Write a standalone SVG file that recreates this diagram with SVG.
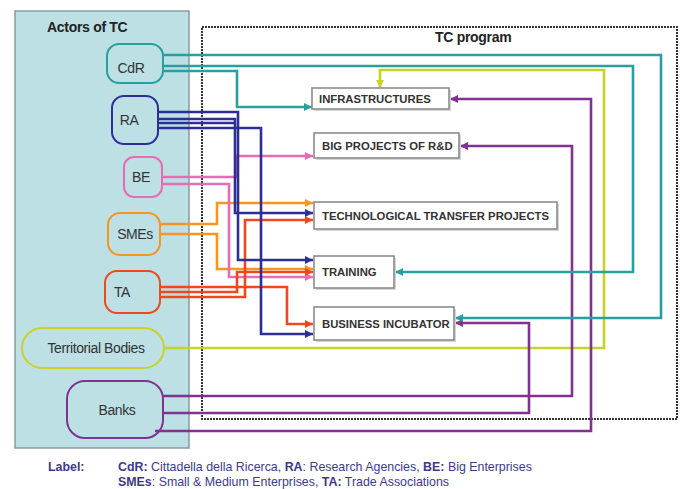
<svg xmlns="http://www.w3.org/2000/svg" width="682" height="489" viewBox="0 0 682 489">
  <style>
    .panel { fill: #bde0e5; stroke: #8a9a9c; stroke-width: 1.5; }
    .actor { fill: none; stroke-width: 2; }
    .alabel { font-family: "Liberation Sans", Arial, sans-serif; font-size: 14px; fill: #333; letter-spacing: -0.4px; }
    .title { font-family: "Liberation Sans", Arial, sans-serif; font-size: 14px; font-weight: bold; fill: #222; letter-spacing: -0.3px; }
    .box { fill: #fff; stroke: #8c8c8c; stroke-width: 1.6; }
    .shadow { fill: #d6d6d6; }
    .blabel { font-family: "Liberation Sans", Arial, sans-serif; font-size: 11.3px; font-weight: bold; fill: #333; }
    .wire { fill: none; stroke-width: 2.6; stroke-linejoin: miter; }
    .legend { font-family: "Liberation Sans", Arial, sans-serif; font-size: 12.4px; fill: #3d3a8c; }
    .legend .b { font-weight: bold; }
    .teal { stroke: #2a9fa0; }
    .navy { stroke: #2e2f96; }
    .pink { stroke: #e86bb3; }
    .orange { stroke: #f7961f; }
    .red { stroke: #f1471f; }
    .yellow { stroke: #c8d227; }
    .purple { stroke: #7f338f; }
  </style>
  <defs>
    <marker id="ah-teal" markerUnits="userSpaceOnUse" markerWidth="9" markerHeight="9" refX="8" refY="4" orient="auto"><path d="M0,0 L8,4 L0,8 z" fill="#2a9fa0"/></marker>
    <marker id="ah-navy" markerUnits="userSpaceOnUse" markerWidth="9" markerHeight="9" refX="8" refY="4" orient="auto"><path d="M0,0 L8,4 L0,8 z" fill="#2e2f96"/></marker>
    <marker id="ah-pink" markerUnits="userSpaceOnUse" markerWidth="9" markerHeight="9" refX="8" refY="4" orient="auto"><path d="M0,0 L8,4 L0,8 z" fill="#e86bb3"/></marker>
    <marker id="ah-orange" markerUnits="userSpaceOnUse" markerWidth="9" markerHeight="9" refX="8" refY="4" orient="auto"><path d="M0,0 L8,4 L0,8 z" fill="#f7961f"/></marker>
    <marker id="ah-red" markerUnits="userSpaceOnUse" markerWidth="9" markerHeight="9" refX="8" refY="4" orient="auto"><path d="M0,0 L8,4 L0,8 z" fill="#f1471f"/></marker>
    <marker id="ah-yellow" markerUnits="userSpaceOnUse" markerWidth="9" markerHeight="9" refX="8" refY="4" orient="auto"><path d="M0,0 L8,4 L0,8 z" fill="#c8d227"/></marker>
    <marker id="ah-purple" markerUnits="userSpaceOnUse" markerWidth="9" markerHeight="9" refX="8" refY="4" orient="auto"><path d="M0,0 L8,4 L0,8 z" fill="#7f338f"/></marker>
  </defs>

  <rect width="682" height="489" fill="#fff"/>

  <!-- Actors panel -->
  <g id="actors-panel">
    <rect class="panel" x="15" y="11" width="174" height="437"/>
    <text class="title" x="47" y="32">Actors of TC</text>
  </g>

  <!-- TC program frame -->
  <g id="tc-program">
    <rect x="202" y="27" width="475" height="392" fill="none" stroke="#333" stroke-width="2" stroke-dasharray="2 1"/>
    <text class="title" x="435" y="42">TC program</text>
  </g>

  <!-- Connectors -->
  <g id="connectors">
    <!-- Territorial Bodies -->
    <path class="wire yellow" d="M164,348 H604 V70 H380 V88" marker-end="url(#ah-yellow)"/>
    <!-- Banks -->
    <path class="wire purple" d="M163,396 H572 V146 H460" marker-end="url(#ah-purple)"/>
    <path class="wire purple" d="M163,413 H529 V323 H455" marker-end="url(#ah-purple)"/>
    <path class="wire purple" d="M155,431 H591 V99 H450" marker-end="url(#ah-purple)"/>
    <!-- CdR -->
    <path class="wire teal" d="M163,55 H661 V318 H455" marker-end="url(#ah-teal)"/>
    <path class="wire teal" d="M163,66 H633 V272 H395" marker-end="url(#ah-teal)"/>
    <path class="wire teal" d="M163,71 H237 V107 H312" marker-end="url(#ah-teal)"/>
    <!-- SMEs -->
    <path class="wire orange" d="M160,224 H217 V203 H313" marker-end="url(#ah-orange)"/>
    <path class="wire orange" d="M160,234 H217 V269 H313" marker-end="url(#ah-orange)"/>
    <!-- BE -->
    <path class="wire pink" d="M162,177 H237 V156 H313" marker-end="url(#ah-pink)"/>
    <path class="wire pink" d="M162,184 H229 V277 H313" marker-end="url(#ah-pink)"/>
    <!-- TA -->
    <path class="wire red" d="M160,287 H287 V324 H313" marker-end="url(#ah-red)"/>
    <path class="wire red" d="M160,292 H237 V272 H313" marker-end="url(#ah-red)"/>
    <path class="wire red" d="M160,297 H245 V220 H313" marker-end="url(#ah-red)"/>
    <!-- RA -->
    <path class="wire navy" d="M158,112 H238 V260 H313" marker-end="url(#ah-navy)"/>
    <path class="wire navy" d="M158,119 H235 V213 H313" marker-end="url(#ah-navy)"/>
    <path class="wire navy" d="M158,123 H235"/>
    <path class="wire navy" d="M158,128 H261 V334 H313" marker-end="url(#ah-navy)"/>
  </g>

  <!-- Actor nodes -->
  <g id="cdr">
    <rect class="actor teal" x="107" y="44" width="56" height="39" rx="12"/>
    <text class="alabel" x="131" y="73" text-anchor="middle">CdR</text>
  </g>
  <g id="ra">
    <rect class="actor navy" x="112" y="96" width="46" height="48" rx="12"/>
    <text class="alabel" x="129" y="125" text-anchor="middle">RA</text>
  </g>
  <g id="be">
    <rect class="actor pink" x="124" y="157" width="38" height="40" rx="10"/>
    <text class="alabel" x="141" y="182" text-anchor="middle">BE</text>
  </g>
  <g id="smes">
    <rect class="actor orange" x="108" y="213" width="52" height="42" rx="12"/>
    <text class="alabel" x="135" y="239" text-anchor="middle">SMEs</text>
  </g>
  <g id="ta">
    <rect class="actor red" x="105" y="271" width="55" height="42" rx="12"/>
    <text class="alabel" x="122" y="297" text-anchor="middle">TA</text>
  </g>
  <g id="territorial-bodies">
    <rect class="actor yellow" x="22" y="328" width="142" height="40" rx="20"/>
    <text class="alabel" x="96" y="353" text-anchor="middle">Territorial Bodies</text>
  </g>
  <g id="banks">
    <rect class="actor purple" x="67" y="381" width="96" height="57" rx="18"/>
    <text class="alabel" x="117" y="415" text-anchor="middle">Banks</text>
  </g>

  <!-- Program nodes -->
  <g id="infrastructures">
    <rect class="shadow" x="314" y="90" width="137" height="21"/>
    <rect class="box" x="312" y="88" width="137" height="21"/>
    <text class="blabel" x="319" y="103">INFRASTRUCTURES</text>
  </g>
  <g id="big-projects">
    <rect class="shadow" x="316" y="135" width="145" height="25"/>
    <rect class="box" x="314" y="133" width="145" height="25"/>
    <text class="blabel" x="322" y="150">BIG PROJECTS OF R&amp;D</text>
  </g>
  <g id="tech-transfer">
    <rect class="shadow" x="316" y="204" width="243" height="27"/>
    <rect class="box" x="314" y="202" width="243" height="27"/>
    <text class="blabel" x="322" y="220">TECHNOLOGICAL TRANSFER PROJECTS</text>
  </g>
  <g id="training">
    <rect class="shadow" x="316" y="258" width="80" height="32"/>
    <rect class="box" x="314" y="256" width="80" height="32"/>
    <text class="blabel" x="322" y="276">TRAINING</text>
  </g>
  <g id="business-incubator">
    <rect class="shadow" x="316" y="309" width="140" height="33"/>
    <rect class="box" x="314" y="307" width="140" height="33"/>
    <text class="blabel" x="322" y="328">BUSINESS INCUBATOR</text>
  </g>

  <!-- Legend -->
  <g id="legend">
    <text class="legend" x="48" y="471"><tspan class="b">Label:</tspan></text>
    <text class="legend" x="118" y="471"><tspan class="b">CdR:</tspan> Cittadella della Ricerca, <tspan class="b">RA</tspan>: Research Agencies, <tspan class="b">BE:</tspan> Big Enterprises</text>
    <text class="legend" x="118" y="486"><tspan class="b">SMEs</tspan>: Small &amp; Medium Enterprises, <tspan class="b">TA:</tspan> Trade Associations</text>
  </g>
</svg>
